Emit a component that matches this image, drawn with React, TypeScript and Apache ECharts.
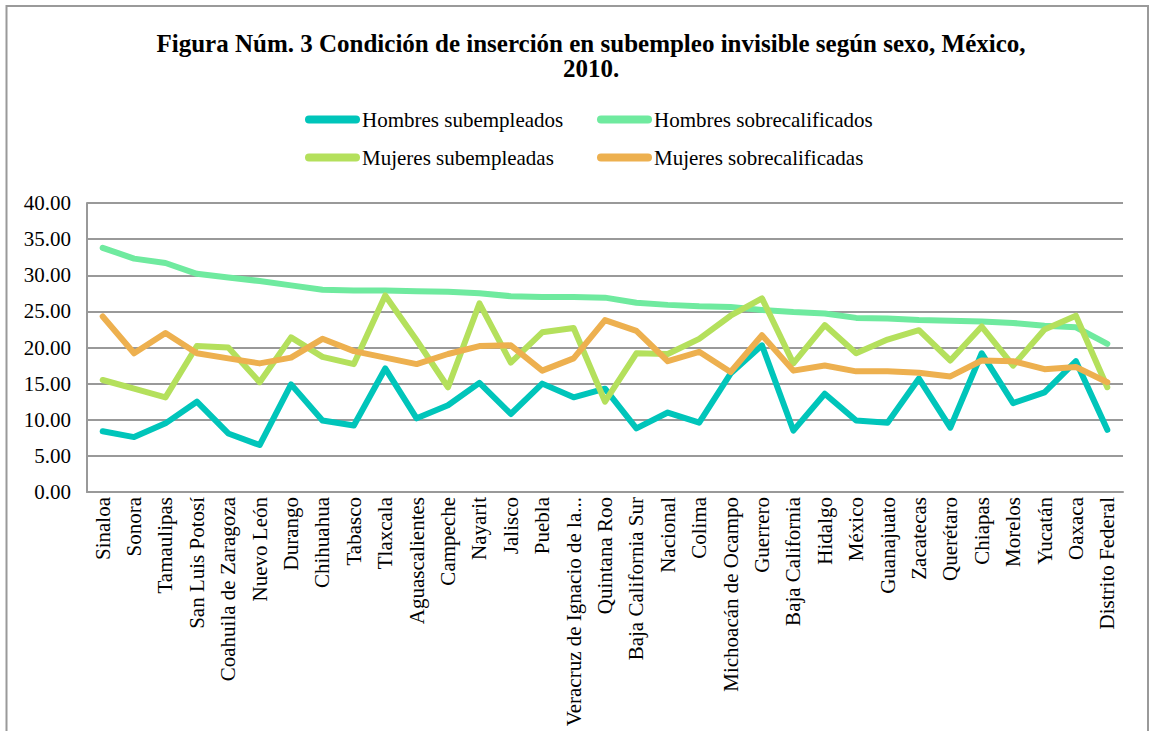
import React, { useEffect, useRef } from "react";
import * as echarts from "echarts";

const categories: string[] = [
  "Sinaloa", "Sonora", "Tamaulipas", "San Luis Potosí", "Coahuila de Zaragoza",
  "Nuevo León", "Durango", "Chihuahua", "Tabasco", "Tlaxcala", "Aguascalientes",
  "Campeche", "Nayarit", "Jalisco", "Puebla", "Veracruz de Ignacio de la Llave",
  "Quintana Roo", "Baja California Sur", "Nacional", "Colima", "Michoacán de Ocampo",
  "Guerrero", "Baja California", "Hidalgo", "México", "Guanajuato", "Zacatecas",
  "Querétaro", "Chiapas", "Morelos", "Yucatán", "Oaxaca", "Distrito Federal",
];

const hombresSubempleados: number[] = [
  8.4, 7.6, 9.5, 12.5, 8.1, 6.5, 14.9, 9.9, 9.2, 17.1, 10.2, 12.0, 15.1, 10.8, 15.0, 13.1,
  14.3, 8.8, 11.0, 9.6, 16.4, 20.3, 8.5, 13.6, 9.9, 9.6, 15.7, 8.9, 19.2, 12.3, 13.8, 18.1, 8.6,
];
const hombresSobrecalificados: number[] = [
  33.8, 32.3, 31.7, 30.2, 29.7, 29.2, 28.6, 28.0, 27.9, 27.9, 27.8, 27.7, 27.5, 27.1, 27.0, 27.0,
  26.9, 26.2, 25.9, 25.7, 25.6, 25.2, 24.9, 24.7, 24.1, 24.0, 23.8, 23.7, 23.6, 23.4, 23.0, 22.8, 20.5,
];
const mujeresSubempleadas: number[] = [
  15.5, 14.3, 13.1, 20.2, 20.0, 15.2, 21.4, 18.7, 17.7, 27.2, 21.0, 14.5, 26.1, 17.9, 22.1, 22.7,
  12.5, 19.2, 19.1, 21.2, 24.4, 26.8, 17.8, 23.1, 19.2, 21.1, 22.4, 18.2, 22.9, 17.5, 22.5, 24.4, 14.5,
];
const mujeresSobrecalificadas: number[] = [
  24.3, 19.2, 22.0, 19.2, 18.5, 17.8, 18.6, 21.2, 19.5, 18.6, 17.7, 19.1, 20.2, 20.3, 16.8, 18.5,
  23.8, 22.3, 18.1, 19.4, 16.6, 21.7, 16.8, 17.5, 16.7, 16.7, 16.5, 16.0, 18.2, 18.1, 17.0, 17.3, 15.2,
];

const seriesNames: string[] = [
  "Hombres subempleados",
  "Hombres sobrecalificados",
  "Mujeres subempleadas",
  "Mujeres sobrecalificadas",
];
const seriesColors: string[] = ["#00C5BA", "#6FEA9F", "#B4E05C", "#EDB04F"];
const seriesData: number[][] = [
  hombresSubempleados,
  hombresSobrecalificados,
  mujeresSubempleadas,
  mujeresSobrecalificadas,
];

const titleText = "Figura Núm. 3 Condición de inserción en subempleo invisible según sexo, México,\n2010.";

const FONT = "Liberation Serif";

export default function App() {
  const ref = useRef<HTMLDivElement>(null);

  useEffect(() => {
    if (!ref.current) return;
    const chart = echarts.init(ref.current, null, { renderer: "svg" });
    const legendPos = [
      { left: 300, top: 104 },
      { left: 592, top: 104 },
      { left: 300, top: 142 },
      { left: 592, top: 142 },
    ];
    const option: any = {
      animation: false,
      backgroundColor: "#ffffff",
      textStyle: { fontFamily: FONT },
      title: {
        text: titleText,
        left: 586,
        top: 26,
        textAlign: "center",
        textStyle: {
          fontFamily: FONT,
          fontWeight: "bold",
          fontSize: 25,
          lineHeight: 25,
          color: "#000",
        },
      },
      legend: seriesNames.map((n, i) => ({
        data: [n],
        left: legendPos[i].left,
        top: legendPos[i].top,
        orient: "horizontal",
        itemWidth: 55,
        itemHeight: 8,
        icon: "path://M4,0 H51 A4,4 0 0 1 51,8 H4 A4,4 0 0 1 4,0 Z",
        itemStyle: { color: seriesColors[i] },
        textStyle: { fontFamily: FONT, fontSize: 21, color: "#000", padding: [0, 0, 0, -3] },
        selectedMode: false,
      })),
      grid: {
        left: 87,
        right: 29,
        top: 203,
        bottom: 239,
        containLabel: false,
        outerBoundsMode: "none",
      },
      xAxis: {
        type: "category",
        data: categories,
        boundaryGap: true,
        axisLine: { show: true, lineStyle: { color: "#999", width: 2 } },
        axisTick: { show: false },
        axisLabel: {
          interval: 0,
          rotate: 90,
          margin: 5,
          fontFamily: FONT,
          fontSize: 21,
          color: "#000",
          formatter: (v: string) => (v.length > 25 ? v.slice(0, 25) + "..." : v),
        },
      },
      yAxis: {
        type: "value",
        min: 0,
        max: 40,
        interval: 5,
        axisLine: { show: true, lineStyle: { color: "#999", width: 2 } },
        axisTick: { show: false },
        splitLine: { show: true, lineStyle: { color: "#999", width: 2 } },
        axisLabel: {
          margin: 16,
          fontFamily: FONT,
          fontSize: 21,
          color: "#000",
          formatter: (v: number) => v.toFixed(2),
        },
      },
      series: seriesNames.map((n, i) => ({
        name: n,
        type: "line",
        data: seriesData[i],
        symbol: "none",
        color: seriesColors[i],
        lineStyle: { color: seriesColors[i], width: 6, cap: "round", join: "round" },
      })),
      graphic: [
        {
          type: "rect",
          shape: { x: 6.5, y: 6, width: 1141.5, height: 800 },
          style: { fill: "none", stroke: "#9a9a9a", lineWidth: 2 },
          silent: true,
        },
      ],
    };
    chart.setOption(option);
    return () => chart.dispose();
  }, []);

  return (
    <div
      ref={ref}
      style={{ position: "fixed", left: 0, top: 0, width: 1152, height: 731 }}
    />
  );
}
